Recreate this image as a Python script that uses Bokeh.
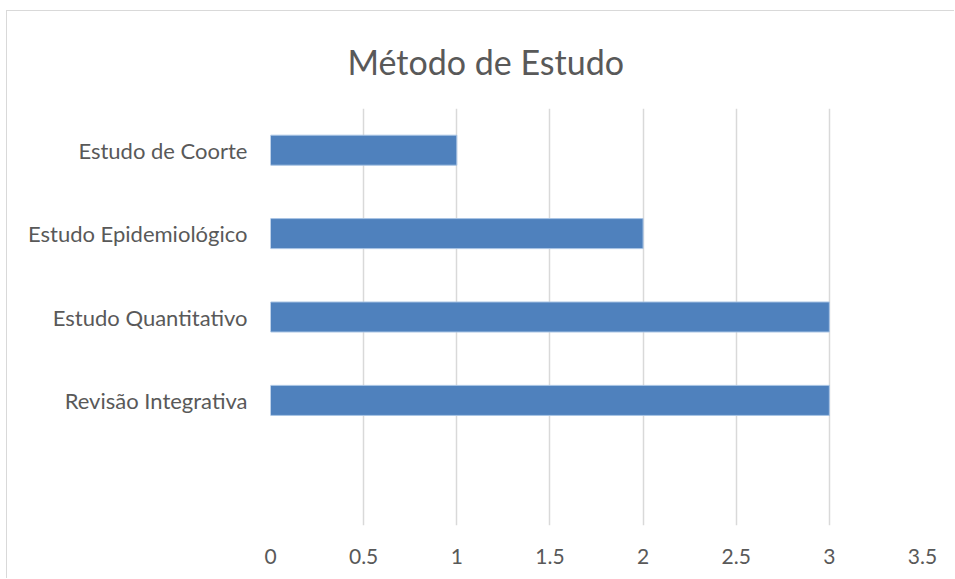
from bokeh.plotting import figure
from bokeh.models import FactorRange, Range1d, FixedTicker
from bokeh.embed import file_html
from bokeh.resources import INLINE

title_text = "Método de Estudo"
categories = ["Estudo de Coorte", "Estudo Epidemiológico", "Estudo Quantitativo", "Revisão Integrativa"]
values = [1, 2, 3, 3]
x_ticks = [0, 0.5, 1, 1.5, 2, 2.5, 3, 3.5]

FONT = "Lato"
TXT = "#595959"

factors = [" "] + categories[::-1]

p = figure(width=948, height=568, output_backend="svg", toolbar_location=None,
           y_range=FactorRange(factors=factors, range_padding=0),
           x_range=Range1d(0, 3.5),
           min_border_left=263, min_border_right=33, min_border_top=97, min_border_bottom=54,
           margin=(10, 0, 0, 6),
           styles={"border-left": "1px solid #D9D9D9", "border-top": "1px solid #D9D9D9"})
p.outline_line_color = None
p.background_fill_color = "white"
p.border_fill_color = "white"

p.title.text = title_text
p.title.text_font = FONT
p.title.text_font_size = "34px"
p.title.text_font_style = "normal"
p.title.text_color = TXT
p.title.align = "left"
p.title.vertical_align = "top"
p.title.offset = 77
p.title.standoff = 49

p.hbar(y=categories, right=values, left=0, height=0.36,
       fill_color="#4F81BD", line_color="#A9C4E4", line_width=1)

p.xaxis.ticker = FixedTicker(ticks=x_ticks)
p.xaxis.axis_line_color = None
p.xaxis.major_tick_line_color = None
p.xaxis.minor_tick_line_color = None
p.xaxis.major_label_text_font = FONT
p.xaxis.major_label_text_font_size = "21px"
p.xaxis.major_label_text_color = TXT
p.xaxis.major_label_standoff = 17

p.yaxis.axis_line_color = None
p.yaxis.major_tick_line_color = None
p.yaxis.major_label_text_font = FONT
p.yaxis.major_label_text_font_size = "22px"
p.yaxis.major_label_text_color = TXT
p.yaxis.major_label_standoff = 17

p.xgrid.grid_line_color = "#D9D9D9"
p.xgrid.grid_line_width = 1.5
p.ygrid.grid_line_color = None

open("out.html", "w").write(file_html(p, INLINE))
